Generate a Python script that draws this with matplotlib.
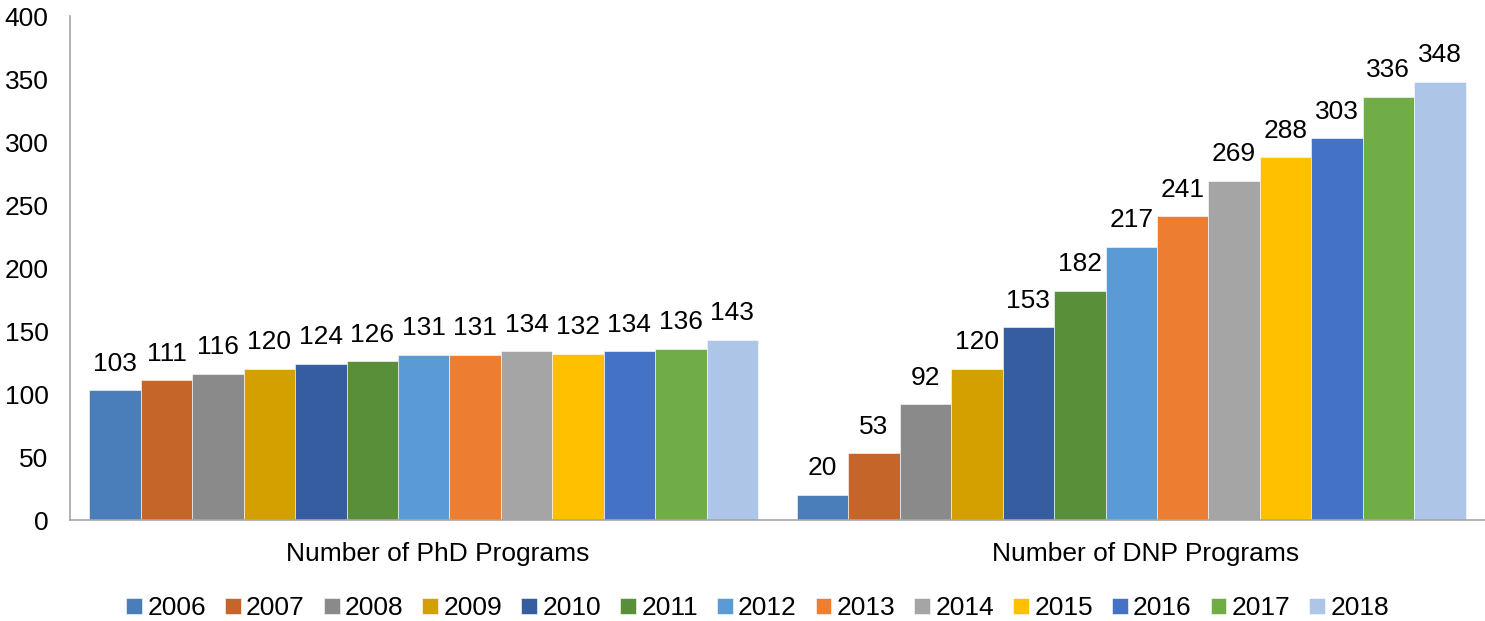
import matplotlib

matplotlib.use("Agg")
import matplotlib.pyplot as plt
import matplotlib.transforms as mtransforms
import numpy as np

plt.rcParams["font.family"] = ["Liberation Sans", "DejaVu Sans"]

categories = ["Number of PhD Programs", "Number of DNP Programs"]
years = ["2006", "2007", "2008", "2009", "2010", "2011", "2012",
         "2013", "2014", "2015", "2016", "2017", "2018"]
phd = [103, 111, 116, 120, 124, 126, 131, 131, 134, 132, 134, 136, 143]
dnp = [20, 53, 92, 120, 153, 182, 217, 241, 269, 288, 303, 336, 348]
colors = ["#4A7EBB", "#C6652A", "#8A8A8A", "#D4A000", "#355DA0", "#5A8F3A",
          "#5B9BD5", "#ED7D31", "#A5A5A5", "#FFC000", "#4472C4", "#70AD47",
          "#ADC5E7"]

FS = 19

fig = plt.figure(figsize=(14.85, 6.21), dpi=100)
ax = fig.add_axes([0.0471, 0.1626, 0.9529, 0.8116])

n = len(years)
group_w = 0.945
w = group_w / n
x = np.arange(len(categories))
for i, yr in enumerate(years):
    vals = [phd[i], dnp[i]]
    pos = x - group_w / 2 + w * (i + 0.5)
    bars = ax.bar(pos, vals, width=w, color=colors[i], label=yr,
                  edgecolor="white", linewidth=0.4)
    for b, v in zip(bars, vals):
        ax.annotate(str(v), (b.get_x() + b.get_width() / 2, v),
                    xytext=(0, 10.5), textcoords="offset points",
                    ha="center", va="bottom", fontsize=FS)

ax.set_xlim(-0.5, 1.5)
ax.set_ylim(0, 400)
ax.set_yticks(range(0, 401, 50))
ax.set_xticks(x)
ax.set_xticklabels(categories)
ax.tick_params(axis="both", length=0, labelsize=FS)
ax.tick_params(axis="y", pad=15.5)
ax.tick_params(axis="x", pad=16)
# category labels sit slightly right of the group centre in the original
shift = mtransforms.ScaledTranslation(14 / 100, 0, fig.dpi_scale_trans)
for lbl in ax.get_xticklabels():
    lbl.set_transform(lbl.get_transform() + shift)
for s in ["top", "right"]:
    ax.spines[s].set_visible(False)
for s in ["left", "bottom"]:
    ax.spines[s].set_color("#A6A6A6")
    ax.spines[s].set_linewidth(1.2)

ax.legend(loc="center", bbox_to_anchor=(0.486, -0.175), ncol=n,
          frameon=False, fontsize=FS, handlelength=0.6, handleheight=0.6,
          handletextpad=0.2, columnspacing=0.72)

fig.savefig("out.png")
